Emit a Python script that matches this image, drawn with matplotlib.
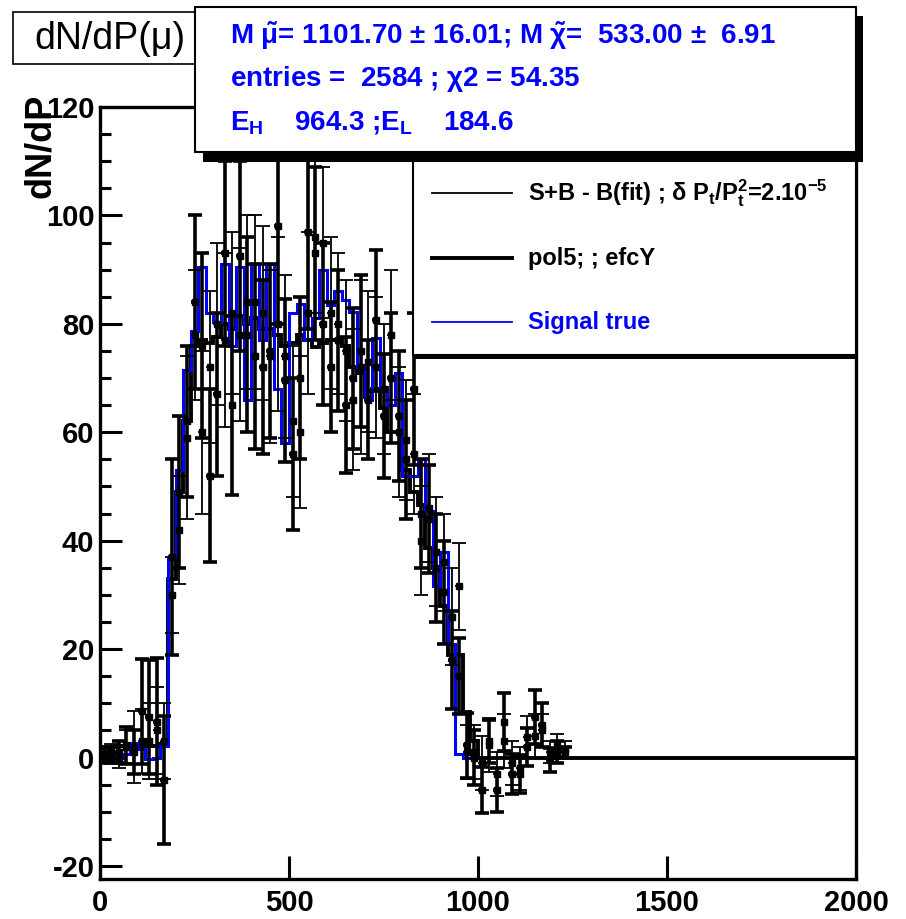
import numpy as np
import matplotlib.pyplot as plt
from matplotlib.patches import Rectangle
from matplotlib.lines import Line2D

plt.rcParams['font.family'] = ['Liberation Sans', 'DejaVu Sans']
plt.rcParams['mathtext.fontset'] = 'custom'
plt.rcParams['mathtext.rm'] = 'Liberation Sans:bold'
plt.rcParams['mathtext.it'] = 'Liberation Sans:bold'
plt.rcParams['mathtext.bf'] = 'Liberation Sans:bold'
plt.rcParams['axes.unicode_minus'] = False

# momentum bins, 20 wide
bin_edges = np.arange(0, 2001, 20)

# "Signal true" histogram, bins 0..1000
signal_true = [0.7, 0.7, 0.0, 0.7, 2.7, 1.5, -0.3, 0.0, 2.2, 37.0,
               53.0, 71.5, 78.6, 90.5, 82.0, 80.4, 91.0, 76.0, 90.5, 66.0,
               91.0, 77.0, 91.0, 68.0, 58.0, 82.0, 83.6, 77.0, 81.0, 90.0,
               83.5, 86.0, 84.4, 82.2, 72.0, 66.0, 77.4, 68.4, 65.0, 71.0,
               52.0, 52.0, 55.0, 45.5, 31.7, 38.0, 21.0, 0.7, 0.0, 0.0]

# pol5 efficiency-corrected histogram, full range
fit_hist = [2.0, 2.0, 2.2, 2.2, 2.0, 2.0, 2.2, 2.2, 2.5, 33.0,
            49.0, 62.0, 76.0, 77.0, 76.5, 77.5, 80.0, 79.0, 81.5, 80.0,
            81.0, 79.0, 79.0, 78.0, 76.0, 76.5, 78.0, 77.0, 75.8, 76.5,
            77.0, 77.0, 76.0, 72.0, 71.0, 66.5, 68.0, 64.5, 60.0, 60.0,
            53.0, 49.0, 46.6, 38.6, 35.0, 28.0, 19.0, 19.0, 8.4, 3.0,
            0, 0, 0, 0, 0, 0, 0, 0, 0, 0,
            0, 0, 0, 0, 0, 0, 0, 0, 0, 0,
            0, 0, 0, 0, 0, 0, 0, 0, 0, 0,
            0, 0, 0, 0, 0, 0, 0, 0, 0, 0,
            0, 0, 0, 0, 0, 0, 0, 0, 0, 0]

# bin centres for the points with errors
centres = [10, 30, 50, 70, 90, 110, 130, 150, 170, 190,
           210, 230, 250, 270, 290, 310, 330, 350, 370, 390,
           410, 430, 450, 470, 490, 510, 530, 550, 570, 590,
           610, 630, 650, 670, 690, 710, 730, 750, 770, 790,
           810, 830, 850, 870, 890, 910, 930, 950, 970, 990,
           1010, 1030, 1050, 1070, 1090, 1110, 1130, 1150, 1170, 1190,
           1210, 1230]

# S+B - B(fit)
sb_val = [0.5, 1.0, 0.0, 2.0, 2.0, 3.0, 3.0, 5.0, 3.0, 30.0,
          42.0, 59.0, 78.0, 60.0, 72.0, 80.0, 77.0, 82.0, 78.0, 84.0,
          84.0, 82.0, 74.0, 80.0, 74.0, 62.0, 60.0, 82.0, 96.0, 95.0,
          82.0, 80.0, 75.0, 66.0, 72.0, 73.0, 72.0, 68.0, 78.0, 60.0,
          58.6, 56.0, 40.0, 46.0, 38.0, 36.0, 26.0, 31.6, 1.0, 1.0,
          -1.0, 2.3, -3.0, 3.0, -1.0, -2.0, 3.8, 4.0, 5.0, 1.0,
          2.3, 1.5]
sb_err = [1.0, 1.5, 2.0, 3.0, 6.6, 6.0, 7.0, 8.0, 7.0, 7.0,
          10.0, 15.0, 12.0, 15.0, 14.0, 15.0, 16.0, 15.0, 16.0, 16.0,
          16.0, 16.0, 16.0, 16.0, 15.0, 14.0, 14.0, 15.0, 14.0, 14.0,
          14.0, 13.0, 13.0, 13.0, 16.0, 13.0, 13.0, 12.0, 12.0, 12.0,
          11.0, 11.0, 10.0, 10.0, 10.0, 9.0, 9.0, 8.0, 5.0, 5.0,
          5.0, 5.0, 4.0, 5.0, 4.0, 4.0, 3.8, 4.0, 3.0, 2.0,
          2.0, 1.5]

# efficiency-corrected points
ef_val = [0.0, 0.0, 1.0, 2.3, 1.0, 8.5, 7.5, 6.6, -4.2, 37.0,
          49.0, 62.0, 84.0, 76.0, 52.0, 67.0, 93.0, 65.0, 92.5, 78.0,
          74.0, 72.0, 75.0, 98.0, 69.6, 56.0, 70.0, 97.0, 93.0, 80.0,
          72.0, 77.0, 65.0, 70.0, 75.0, 66.0, 80.7, 63.0, 70.0, 63.0,
          55.0, 68.0, 45.0, 44.0, 35.0, 30.5, 18.0, 15.0, 2.3, 0.0,
          -6.0, 3.0, -6.0, 6.6, -3.0, -3.0, 2.0, 7.5, 6.0, -0.5,
          1.0, 1.0]
ef_err = [1.0, 1.0, 2.0, 3.4, 4.0, 9.7, 10.5, 11.7, 11.8, 18.0,
          14.0, 14.0, 16.0, 17.0, 16.0, 15.0, 17.0, 16.5, 17.5, 18.0,
          17.0, 16.0, 16.0, 18.0, 15.0, 14.0, 15.0, 18.0, 16.0, 15.0,
          12.0, 13.0, 12.5, 13.0, 14.0, 11.0, 13.0, 11.5, 12.0, 12.0,
          11.0, 14.0, 10.0, 10.0, 10.0, 9.5, 9.0, 7.0, 6.0, 5.0,
          4.3, 4.0, 4.0, 5.3, 3.7, 3.5, 3.5, 5.0, 4.0, 2.2,
          2.0, 1.0]

W, H = 906, 919
BLUE = '#0000ff'


def fx(px):
    return px / W


def fy(py):
    return 1 - py / H


fig = plt.figure(figsize=(W / 100, H / 100), dpi=100)
ax = fig.add_axes([fx(100), fy(879), (856 - 100) / W, (879 - 107) / H])

ax.stairs(fit_hist, bin_edges, baseline=None, color='black', lw=2.8, zorder=2)
ax.stairs(signal_true, bin_edges[:len(signal_true) + 1], baseline=None,
          color=BLUE, lw=2.2, zorder=3)

ax.errorbar(centres, sb_val, yerr=sb_err, fmt='s', color='black', ms=4,
            elinewidth=1.3, capsize=5, capthick=1.3, zorder=4)
ax.errorbar(centres, sb_val, xerr=10, fmt='none', ecolor='black',
            elinewidth=1.3, capsize=0, zorder=4)
ax.errorbar(centres, ef_val, yerr=ef_err, fmt='s', color='black', ms=5,
            elinewidth=2.6, capsize=5, capthick=2.6, zorder=5)
ax.errorbar(centres, ef_val, xerr=10, fmt='none', ecolor='black',
            elinewidth=2.6, capsize=0, zorder=5)

ax.set_xlim(0, 2000)
ax.set_ylim(-22.4, 120)
ax.set_xticks([0, 500, 1000, 1500, 2000])
ax.set_yticks(np.arange(-20, 121, 20))
ax.set_yticks(np.arange(-20, 121, 5), minor=True)
ax.tick_params(axis='both', which='both', direction='in', width=2.2,
               labelsize=21)
ax.tick_params(axis='x', which='major', length=16.5, pad=7)
ax.tick_params(axis='y', which='major', length=16, pad=4)
ax.tick_params(axis='y', which='minor', length=8)
for lab in ax.get_xticklabels() + ax.get_yticklabels():
    lab.set_fontweight('bold')
for sp in ax.spines.values():
    sp.set_linewidth(2.4)

fig.text(fx(41), fy(94), 'dN/dP', rotation=90, ha='center', va='top',
         fontsize=26, fontweight='bold', zorder=1)

# title box
fig.patches.append(Rectangle((fx(13), fy(64)), (207 - 13) / W, (64 - 12) / H,
                             transform=fig.transFigure, facecolor='white',
                             edgecolor='black', lw=1.2, zorder=10))
fig.text(fx(110), fy(39), 'dN/dP(\u03bc)', ha='center', va='center',
         fontsize=27, zorder=11)

# legend box
fig.patches.append(Rectangle((fx(413), fy(359)), (856 - 413) / W, (359 - 140) / H,
                             transform=fig.transFigure, facecolor='black',
                             edgecolor='none', zorder=10))
fig.patches.append(Rectangle((fx(413), fy(355)), (856 - 413) / W, (355 - 140) / H,
                             transform=fig.transFigure, facecolor='white',
                             edgecolor='black', lw=1.5, zorder=10))
legend_rows = [
    (193, 'black', 1.3, r'S+B - B(fit) ; $\delta$ P$_t$/P$_t^2$=2.10$^{-5}$', 'black'),
    (258, 'black', 2.8, 'pol5; ; efcY', 'black'),
    (322, BLUE, 1.3, 'Signal true', BLUE),
]
for py, lc, lw, label, tc in legend_rows:
    fig.lines.append(Line2D([fx(432), fx(512)], [fy(py), fy(py)],
                            transform=fig.transFigure, color=lc, lw=lw,
                            zorder=11))
    fig.text(fx(528), fy(py), label, ha='left', va='center', fontsize=17,
             fontweight='bold', color=tc, zorder=11)

# stats box with shadow
fig.patches.append(Rectangle((fx(203), fy(162)), (863 - 203) / W, (162 - 16) / H,
                             transform=fig.transFigure, facecolor='black',
                             edgecolor='none', zorder=12))
fig.patches.append(Rectangle((fx(195), fy(152)), (856 - 195) / W, (152 - 7) / H,
                             transform=fig.transFigure, facecolor='white',
                             edgecolor='black', lw=1.5, zorder=12))
stats_lines = [
    (36, r'M $\tilde{\mu}$= 1101.70 $\pm$ 16.01; M $\tilde{\chi}$=  533.00 $\pm$  6.91'),
    (79, r'entries =  2584 ; $\chi$2 = 54.35'),
    (122, r'E$_{H}$    964.3 ;E$_{L}$    184.6'),
]
for py, txt in stats_lines:
    fig.text(fx(230), fy(py), txt, ha='left', va='center', fontsize=20,
             fontweight='bold', color=BLUE, zorder=13)

fig.savefig('out.png', dpi=100)
